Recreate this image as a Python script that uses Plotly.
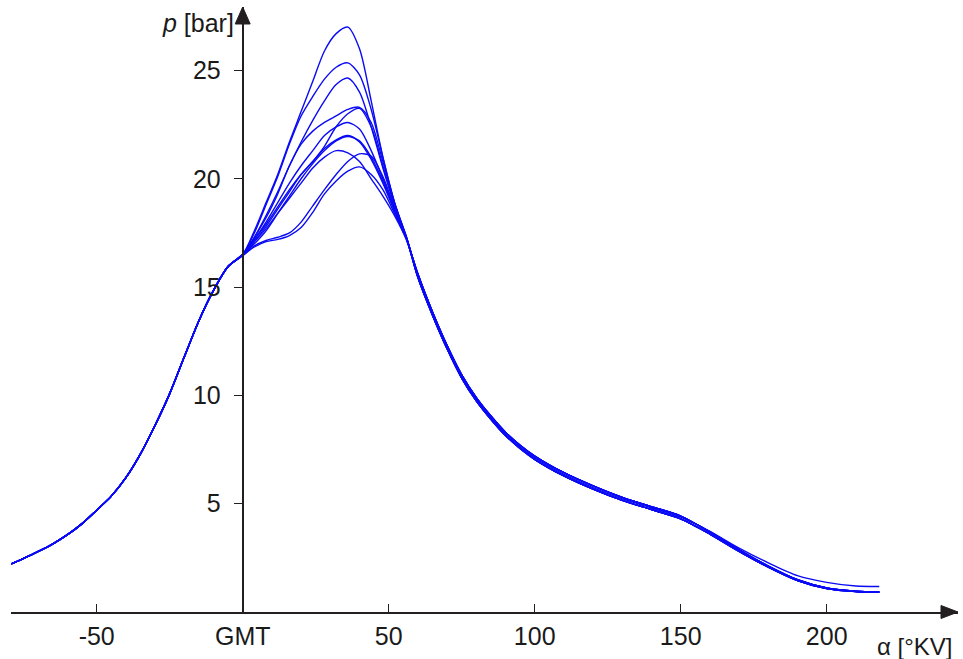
import plotly.graph_objects as go

# ---- data ----
# common rising flank (all cycles coincide)
x_rise = [-79.3, -75, -70, -65, -60, -55, -50, -45, -40, -35, -30, -25, -20, -15, -10, -5]
p_rise = [2.22, 2.48, 2.8, 3.15, 3.57, 4.08, 4.7, 5.35, 6.2, 7.3, 8.62, 10.08, 11.78, 13.45, 14.85, 15.95]

# combustion region, one list per cycle
x_peak = [0, 4, 8, 12, 16, 20, 24, 28, 32, 36, 40, 44, 48, 52, 56]
p_cyc_1 = [16.5, 17.6, 18.9, 20.2, 21.7, 23.1, 24.5, 25.9, 26.7, 27.0, 26.0, 23.6, 21.0, 18.9, 17.3]
p_cyc_2 = [16.5, 17.5, 18.8, 20.1, 21.6, 22.9, 23.8, 24.6, 25.15, 25.35, 24.8, 23.2, 21.0, 18.9, 17.3]
p_cyc_3 = [16.5, 17.3, 18.3, 19.4, 20.6, 21.7, 22.7, 23.6, 24.35, 24.65, 24.0, 22.4, 20.5, 18.8, 17.3]
p_cyc_4 = [16.5, 17.3, 18.2, 19.3, 20.6, 21.6, 22.2, 22.6, 22.9, 23.2, 23.3, 22.6, 20.8, 18.9, 17.35]
p_cyc_5 = [16.5, 17.2, 17.9, 18.7, 19.5, 20.2, 20.8, 21.5, 22.4, 23.0, 23.25, 22.4, 20.6, 18.8, 17.3]
p_cyc_6 = [16.5, 17.2, 18.0, 18.9, 19.8, 20.6, 21.3, 22.0, 22.4, 22.6, 22.3, 21.3, 20.0, 18.6, 17.3]
p_cyc_7 = [16.5, 17.1, 17.8, 18.6, 19.4, 20.2, 20.8, 21.4, 21.8, 22.0, 21.7, 20.9, 19.8, 18.5, 17.25]
p_cyc_8 = [16.5, 17.0, 17.6, 18.4, 19.2, 20.0, 20.7, 21.3, 21.75, 21.95, 21.75, 21.0, 19.9, 18.6, 17.3]
p_cyc_9 = [16.5, 17.1, 17.7, 18.4, 19.1, 19.8, 20.5, 21.0, 21.3, 21.2, 20.8, 20.0, 19.2, 18.3, 17.2]
p_cyc_10 = [16.45, 16.9, 17.15, 17.3, 17.5, 18.0, 18.75, 19.5, 20.2, 20.8, 21.15, 21.05, 20.1, 18.7, 17.35]
p_cyc_11 = [16.45, 16.85, 17.1, 17.2, 17.38, 17.75, 18.45, 19.3, 19.9, 20.35, 20.55, 20.2, 19.5, 18.4, 17.25]

# expansion flank (three slightly different tails)
x_fall = [60, 65, 70, 75, 80, 85, 90, 95, 100, 110, 120, 130, 140, 150, 160, 170, 180, 190, 200, 210, 218]
p_fall_a = [15.45, 13.7, 12.15, 10.8, 9.75, 8.9, 8.15, 7.55, 7.05, 6.28, 5.67, 5.15, 4.73, 4.3, 3.6, 2.8, 2.07, 1.45, 1.08, 0.94, 0.91]
p_fall_b = [15.6, 13.85, 12.3, 10.95, 9.9, 9.05, 8.3, 7.7, 7.2, 6.43, 5.82, 5.29, 4.86, 4.43, 3.7, 2.87, 2.12, 1.49, 1.11, 0.96, 0.93]
p_fall_c = [15.52, 13.77, 12.22, 10.87, 9.82, 8.97, 8.22, 7.62, 7.12, 6.35, 5.74, 5.22, 4.8, 4.38, 3.72, 2.95, 2.27, 1.68, 1.37, 1.2, 1.18]

x_tickvals = [-50, 0, 50, 100, 150, 200]
x_ticktext = ["-50", "GMT", "50", "100", "150", "200"]
y_tickvals = [5, 10, 15, 20, 25]

cycles = [
    (p_cyc_1, p_fall_a), (p_cyc_2, p_fall_b), (p_cyc_3, p_fall_a),
    (p_cyc_4, p_fall_c), (p_cyc_5, p_fall_b), (p_cyc_6, p_fall_a),
    (p_cyc_7, p_fall_b), (p_cyc_8, p_fall_a), (p_cyc_9, p_fall_b),
    (p_cyc_10, p_fall_a), (p_cyc_11, p_fall_b),
]

X_MIN, X_MAX = -79.35, 244.97
Y_MIN, Y_MAX = 0, 27.93
AX = "#231f20"
BLUE = "#0a0af5"
TXT = "#1a1a1a"
FONT = "Liberation Sans, Arial, sans-serif"

fig = go.Figure()
for peak, fall in cycles:
    fig.add_trace(go.Scatter(
        x=x_rise + x_peak + x_fall,
        y=p_rise + peak + fall,
        mode="lines",
        line=dict(color=BLUE, width=1.4, shape="spline", smoothing=0.8),
        hoverinfo="skip",
        showlegend=False,
    ))

y_pos = (0 - X_MIN) / (X_MAX - X_MIN)

fig.update_layout(
    width=963, height=659,
    margin=dict(l=11, r=5, t=7, b=47, autoexpand=False),
    paper_bgcolor="white", plot_bgcolor="white",
    font=dict(family=FONT, size=25, color=TXT),
    xaxis=dict(
        range=[X_MIN, X_MAX], showgrid=False, zeroline=False, automargin=False,
        showline=True, linecolor=AX, linewidth=2,
        ticks="inside", ticklen=8, tickwidth=1, tickcolor=AX,
        tickvals=x_tickvals, ticktext=x_ticktext,
        tickfont=dict(size=25, family=FONT, color=TXT),
        ticklabelstandoff=1,
    ),
    yaxis=dict(
        range=[Y_MIN, Y_MAX], showgrid=False, zeroline=False, automargin=False,
        anchor="free", position=y_pos,
        showline=True, linecolor=AX, linewidth=2,
        ticks="outside", ticklen=8, tickwidth=1, tickcolor=AX,
        tickvals=y_tickvals,
        tickfont=dict(size=25, family=FONT, color=TXT),
        ticklabelstandoff=8,
    ),
    shapes=[
        dict(type="path", xref="paper", yref="paper",
             xsizemode="pixel", ysizemode="pixel", xanchor=1, yanchor=0,
             path="M -17,-6.5 L 0,0 L -17,6.5 Z",
             fillcolor=AX, line=dict(color=AX, width=1)),
        dict(type="path", xref="paper", yref="paper",
             xsizemode="pixel", ysizemode="pixel", xanchor=y_pos, yanchor=1,
             path="M -7.5,-17 L 0,0 L 7.5,-17 Z",
             fillcolor=AX, line=dict(color=AX, width=1)),
    ],
    annotations=[
        dict(text="<i>p</i> [bar]", xref="paper", yref="paper",
             x=y_pos, y=1, xanchor="right", yanchor="middle",
             xshift=-7, yshift=-16, showarrow=False,
             font=dict(size=25, family=FONT, color=TXT)),
        dict(text="α [°KV]", xref="paper", yref="paper",
             x=1, y=0, xanchor="right", yanchor="middle",
             xshift=-3, yshift=-34, showarrow=False,
             font=dict(size=24, family=FONT, color=TXT)),
    ],
)

fig.write_html(
    "out.html",
    config={"displayModeBar": False},
    post_script="document.body.style.margin='0';document.body.style.overflow='hidden';",
)
